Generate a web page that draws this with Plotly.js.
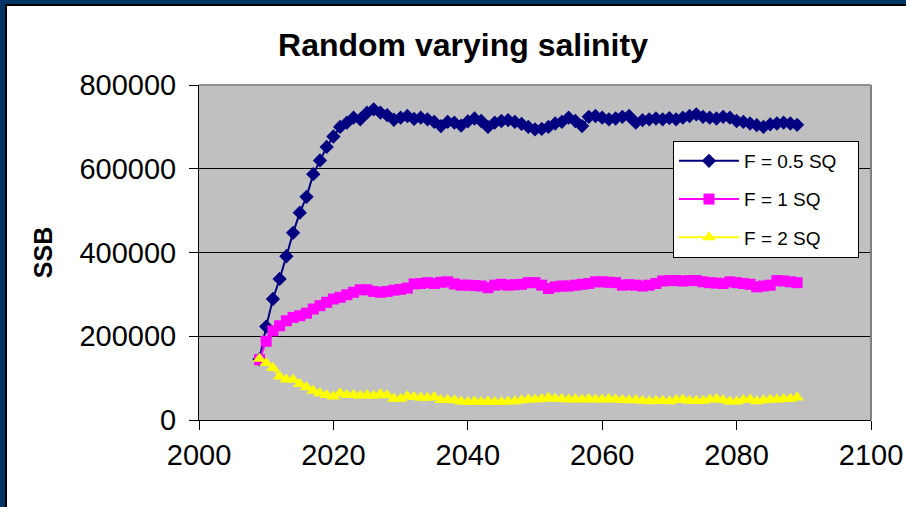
<!DOCTYPE html>
<html>
<head>
<meta charset="utf-8">
<script src="https://cdn.plot.ly/plotly-3.0.1.min.js"></script>
<style>
  html, body { margin: 0; padding: 0; background: #ffffff; }
  #wrap { position: relative; width: 906px; height: 507px; overflow: hidden; }
  #chart { position: absolute; left: 0; top: 0; width: 906px; height: 507px; }
  .bar { position: absolute; }
</style>
</head>
<body>
<div id="wrap">
  <div id="chart"></div>
  <div class="bar" style="left:0;top:0;width:906px;height:4px;background:#003366;"></div>
  <div class="bar" style="left:5px;top:4px;width:901px;height:2px;background:#000000;"></div>
  <div class="bar" style="left:0;top:0;width:5px;height:507px;background:#003366;"></div>
  <div class="bar" style="left:5px;top:4px;width:2px;height:503px;background:#000000;"></div>
</div>
<script>
const years = [];
for (let y = 2009; y <= 2089; y++) years.push(y);

const seriesNames = ["F = 0.5 SQ", "F = 1 SQ", "F = 2 SQ"];

const ssbF05 = [
  145000, 223000, 289000, 337000, 391000, 447000, 495000, 533000, 587000, 620000,
  652000, 677000, 700000, 710000, 722000, 718000, 734000, 742000, 734000, 728000,
  717000, 722000, 726000, 719000, 722000, 718000, 712000, 702000, 712000, 710000,
  703000, 713000, 720000, 714000, 700000, 710000, 714000, 716000, 712000, 707000,
  700000, 694000, 695000, 700000, 708000, 712000, 722000, 714000, 702000, 724000,
  726000, 722000, 718000, 720000, 724000, 726000, 710000, 716000, 718000, 720000,
  718000, 721000, 718000, 722000, 726000, 730000, 724000, 722000, 720000, 724000,
  722000, 714000, 712000, 708000, 704000, 700000, 706000, 708000, 710000, 708000,
  705000
];

const ssbF1 = [
  144000, 188000, 213000, 225000, 237000, 245000, 249000, 255000, 265000, 273000,
  281000, 289000, 293000, 299000, 305000, 311000, 311000, 307000, 305000, 307000,
  310000, 312000, 315000, 325000, 326000, 328000, 326000, 329000, 330000, 325000,
  322000, 322000, 321000, 320000, 316000, 322000, 324000, 322000, 323000, 324000,
  328000, 328000, 322000, 314000, 318000, 320000, 320000, 322000, 324000, 326000,
  330000, 330000, 329000, 328000, 322000, 323000, 322000, 320000, 322000, 326000,
  332000, 333000, 333000, 332000, 333000, 333000, 330000, 328000, 327000, 326000,
  330000, 328000, 326000, 324000, 318000, 320000, 322000, 333000, 332000, 330000,
  328000
];

const ssbF2 = [
  146000, 136000, 124000, 104000, 97000, 96000, 86000, 78000, 70000, 64000,
  60000, 56000, 64000, 60000, 60000, 58000, 60000, 58000, 62000, 59000,
  51000, 51000, 57000, 55000, 53000, 53000, 55000, 48000, 48000, 47000,
  44000, 43000, 44000, 43000, 44000, 43000, 43000, 44000, 45000, 47000,
  49000, 49000, 50000, 53000, 51000, 50000, 49000, 50000, 49000, 50000,
  49000, 49000, 50000, 49000, 48000, 47000, 48000, 46000, 45000, 46000,
  46000, 45000, 48000, 49000, 46000, 46000, 46000, 49000, 50000, 48000,
  44000, 44000, 48000, 49000, 45000, 47000, 49000, 49000, 50000, 51000,
  54000
];

const xTickVals = [2000, 2020, 2040, 2060, 2080, 2100];
const yTickVals = [0, 200000, 400000, 600000, 800000];

const FONT = "Liberation Sans, Arial, sans-serif";
const PAD = "\u00a0\u00a0\u00a0";

const traces = [
  {
    x: years, y: ssbF05, name: seriesNames[0] + PAD, type: "scatter", mode: "lines+markers",
    legendgroup: "a",
    line: { color: "#000080", width: 2 },
    marker: { symbol: "diamond", size: 11, color: "#000080" }
  },
  {
    x: years, y: ssbF1, name: seriesNames[1], type: "scatter", mode: "lines+markers",
    legendgroup: "b",
    line: { color: "#FF00FF", width: 2 },
    marker: { symbol: "square", size: 11, color: "#FF00FF" }
  },
  {
    x: years, y: ssbF2, name: seriesNames[2], type: "scatter", mode: "lines+markers",
    legendgroup: "c",
    line: { color: "#FFFF00", width: 2 },
    marker: { symbol: "triangle-up", size: 12, color: "#FFFF00" }
  }
];

const layout = {
  width: 906, height: 507,
  margin: { l: 199, r: 35, t: 85, b: 87, pad: 0 },
  paper_bgcolor: "#ffffff",
  plot_bgcolor: "#C0C0C0",
  font: { family: FONT, color: "#000000" },
  showlegend: true,
  title: {
    text: "<b>Random varying salinity</b>",
    font: { family: FONT, size: 32, color: "#000000" },
    x: 463 / 906, xref: "container", xanchor: "center",
    y: 1 - 45 / 507, yref: "container", yanchor: "middle"
  },
  xaxis: {
    range: [2000, 2100],
    tickvals: xTickVals,
    ticktext: xTickVals.map(String),
    ticks: "outside", ticklen: 9, tickwidth: 1, tickcolor: "#000000",
    tickfont: { family: FONT, size: 29, color: "#000000" },
    showgrid: false, zeroline: false,
    showline: true, linecolor: "#000000", linewidth: 1,
    ticklabelstandoff: 0
  },
  yaxis: {
    range: [0, 800000],
    tickvals: yTickVals,
    ticktext: yTickVals.map(String),
    ticks: "outside", ticklen: 9, tickwidth: 1, tickcolor: "#000000",
    tickfont: { family: FONT, size: 29, color: "#000000" },
    showgrid: true, gridcolor: "#000000", gridwidth: 1,
    zeroline: false,
    showline: true, linecolor: "#000000", linewidth: 1,
    ticklabelstandoff: 7,
    title: {
      text: "<b>SSB</b>",
      font: { family: FONT, size: 25, color: "#000000" },
      standoff: 19
    }
  },
  legend: {
    x: (673 - 199) / 672, y: (420 - 141) / 335,
    xanchor: "left", yanchor: "top",
    bgcolor: "#ffffff", bordercolor: "#000000", borderwidth: 1,
    font: { family: FONT, size: 19, color: "#000000" },
    tracegroupgap: 10.5,
    traceorder: "grouped",
    itemwidth: 60
  },
  shapes: [
    {
      type: "line", xref: "paper", yref: "paper",
      x0: 0, x1: 1, y0: 1, y1: 1,
      line: { color: "#909090", width: 2 }
    },
    {
      type: "line", xref: "paper", yref: "paper",
      x0: 1, x1: 1, y0: 0, y1: 1,
      line: { color: "#808080", width: 2 }
    }
  ]
};

Plotly.newPlot("chart", traces, layout, { displayModeBar: false, staticPlot: true });
</script>
</body>
</html>
